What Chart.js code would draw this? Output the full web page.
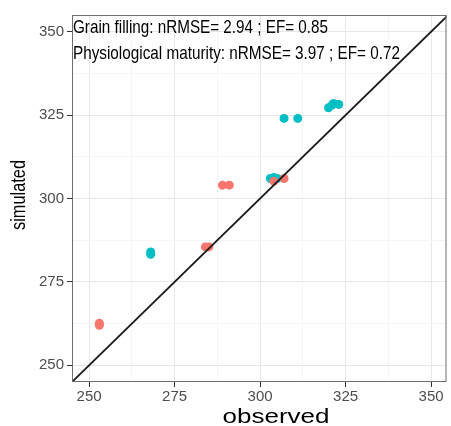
<!DOCTYPE html>
<html>
<head>
<meta charset="utf-8">
<script src="https://cdn.jsdelivr.net/npm/chart.js@4/dist/chart.umd.min.js"></script>
<style>
html, body { margin: 0; padding: 0; background: #fff; }
#wrap { width: 451px; height: 426px; }
</style>
</head>
<body>
<div id="wrap"><canvas id="chart"></canvas></div>
<script>
// values
const grainObserved = [253, 253, 284, 285, 289, 291, 304, 307];
const grainSimulated = [262.6, 262, 285.5, 285.5, 304, 304, 305.2, 306];
const maturityObserved = [268, 268, 303, 304, 305, 307, 311, 320, 321, 321.5, 323];
const maturitySimulated = [284, 283.3, 306, 306.3, 306, 324, 324, 327.2, 328, 328.5, 328.2];
const oneToOne = [245, 355];
const majorTicks = [250, 275, 300, 325, 350];
const minorTicks = [262.5, 287.5, 312.5, 337.5];
const statsLines = [
    'Grain filling: nRMSE= 2.94 ; EF= 0.85',
    'Physiological maturity: nRMSE= 3.97 ; EF= 0.72'
];

function toPoints(xs, ys) {
    return xs.map((x, i) => ({ x: x, y: ys[i] }));
}

function isMinor(ctx) {
    return ctx.tick && minorTicks.includes(ctx.tick.value);
}

function allTicks(axis) {
    axis.ticks = majorTicks.concat(minorTicks).sort((a, b) => a - b).map(v => ({ value: v }));
}

const tickFont = { family: 'Liberation Sans, Arial, sans-serif', size: 15 };

const grid = {
    color: ctx => isMinor(ctx) ? '#F5F5F5' : '#E8E8E8',
    tickColor: ctx => isMinor(ctx) ? 'rgba(0,0,0,0)' : '#333333',
    tickLength: 5,
    lineWidth: 1
};

// draw text squeezed or stretched to a given width
function drawFitted(ctx, text, x, y, width, font, align, angle) {
    ctx.save();
    ctx.font = font;
    const natural = ctx.measureText(text).width;
    ctx.translate(x, y);
    if (angle) ctx.rotate(angle);
    ctx.scale(width / natural, 1);
    ctx.textAlign = align;
    ctx.textBaseline = 'alphabetic';
    ctx.fillStyle = '#000';
    ctx.fillText(text, 0, 0);
    ctx.restore();
}

const decorations = {
    id: 'decorations',
    afterDraw(chart) {
        const { ctx, chartArea } = chart;
        ctx.save();
        ctx.strokeStyle = '#6E6E6E';
        ctx.lineWidth = 1;
        ctx.strokeRect(chartArea.left + 0.5, chartArea.top + 0.5,
            chartArea.right - chartArea.left - 1, chartArea.bottom - chartArea.top - 1);
        ctx.restore();

        const f = '19px "Liberation Sans", Arial, sans-serif';
        drawFitted(ctx, statsLines[0], chartArea.left + 1, 33, 255, f, 'left');
        drawFitted(ctx, statsLines[1], chartArea.left + 1, 59, 327, f, 'left');

        drawFitted(ctx, 'observed', 276, 423, 107, '20px "Liberation Sans", Arial, sans-serif', 'center');
        drawFitted(ctx, 'simulated', 25, 195, 70, '20px "Liberation Sans", Arial, sans-serif', 'center', -Math.PI / 2);
    }
};

new Chart(document.getElementById('chart'), {
    type: 'scatter',
    data: {
        datasets: [{
            type: 'line',
            data: toPoints(oneToOne, oneToOne),
            borderColor: '#1A1A1A',
            borderWidth: 1.8,
            pointRadius: 0,
            fill: false,
            order: 0
        }, {
            label: 'Grain filling',
            data: toPoints(grainObserved, grainSimulated),
            backgroundColor: '#F8766D',
            borderWidth: 0,
            pointRadius: 4.5,
            order: 1
        }, {
            label: 'Physiological maturity',
            data: toPoints(maturityObserved, maturitySimulated),
            backgroundColor: '#00BFC4',
            borderWidth: 0,
            pointRadius: 4.5,
            order: 1
        }]
    },
    options: {
        responsive: true,
        maintainAspectRatio: false,
        animation: false,
        layout: { padding: { top: 15, right: 0.5, left: 0, bottom: 0 } },
        plugins: {
            legend: { display: false },
            tooltip: { enabled: false }
        },
        scales: {
            x: {
                type: 'linear',
                min: 245,
                max: 354.5,
                afterBuildTicks: allTicks,
                afterFit(scale) { scale.height = 44; },
                grid: grid,
                border: { display: false },
                ticks: {
                    autoSkip: false,
                    maxRotation: 0,
                    padding: 1,
                    color: '#4D4D4D',
                    font: tickFont,
                    callback: v => majorTicks.includes(v) ? v : ''
                }
            },
            y: {
                type: 'linear',
                min: 245,
                max: 355,
                afterBuildTicks: allTicks,
                afterFit(scale) { scale.width = 72; },
                grid: grid,
                border: { display: false },
                ticks: {
                    autoSkip: false,
                    padding: 3,
                    color: '#4D4D4D',
                    font: tickFont,
                    callback: v => majorTicks.includes(v) ? v : ''
                }
            }
        }
    },
    plugins: [decorations]
});
</script>
</body>
</html>
